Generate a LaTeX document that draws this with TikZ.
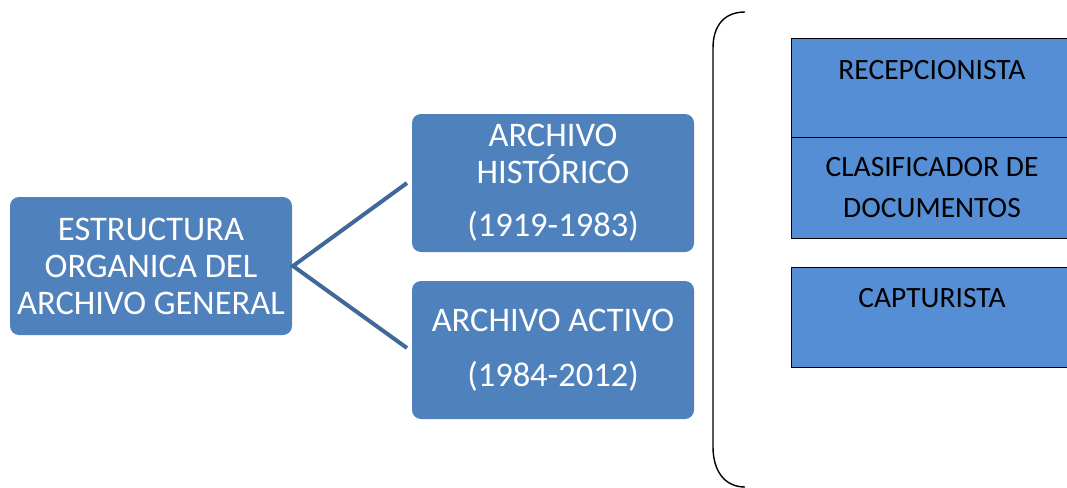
\documentclass[tikz,border=0pt]{standalone}
\usepackage{fontspec}
\setmainfont{Carlito}
\definecolor{boxblue}{HTML}{4F81BD}
\definecolor{linkblue}{HTML}{40689A}
\definecolor{roleblue}{HTML}{558ED5}
\begin{document}
\begin{tikzpicture}[x=1pt,y=-1pt,
  unit/.style={fill=boxblue, rounded corners=9pt, minimum width=282pt, minimum height=138pt,
    text=white, align=center, inner sep=0pt, font=\fontsize{34.5}{37}\selectfont},
  link/.style={draw=linkblue, line width=4pt},
  role/.style={fill=roleblue, draw=black, line width=1pt, minimum width=282pt, inner sep=0pt},
  roletext/.style={text=black, align=center, inner sep=0pt, font=\fontsize{29.5}{41}\selectfont}]
\useasboundingbox (0,0) rectangle (1067,487);

% main unit and its two archives
\node[unit] (main) at (151,266) {ESTRUCTURA\\ORGANICA DEL\\ARCHIVO GENERAL};
\node[unit] (hist) at (553,183) {ARCHIVO\\HISTÓRICO\\[16pt](1919-1983)};
\node[unit] (act) at (553,350) {ARCHIVO ACTIVO\\[18pt](1984-2012)};

\coordinate (fork) at (293,266);
\coordinate (hend) at (407,183);
\coordinate (aend) at (407,348);
\draw[link] (hend) -- (fork) -- (aend);

% brace grouping the staff roles
\draw[black, line width=1.4pt] (745,12) .. controls (724,12) and (713,26) .. (713,48)
  -- (713,447) .. controls (713,470) and (724,487) .. (745,487);

% staff roles
\node[role, minimum height=98pt] (rec) at (932,88) {};
\node[role, minimum height=101pt] (cla) at (932,187.5) {};
\node[role, minimum height=100pt] (cap) at (932,317) {};
\node[roletext] (trec) at (932,70) {RECEPCIONISTA};
\node[roletext] (tcla) at (932,187.5) {CLASIFICADOR DE\\DOCUMENTOS};
\node[roletext] (tcap) at (932,298) {CAPTURISTA};
\end{tikzpicture}
\end{document}
